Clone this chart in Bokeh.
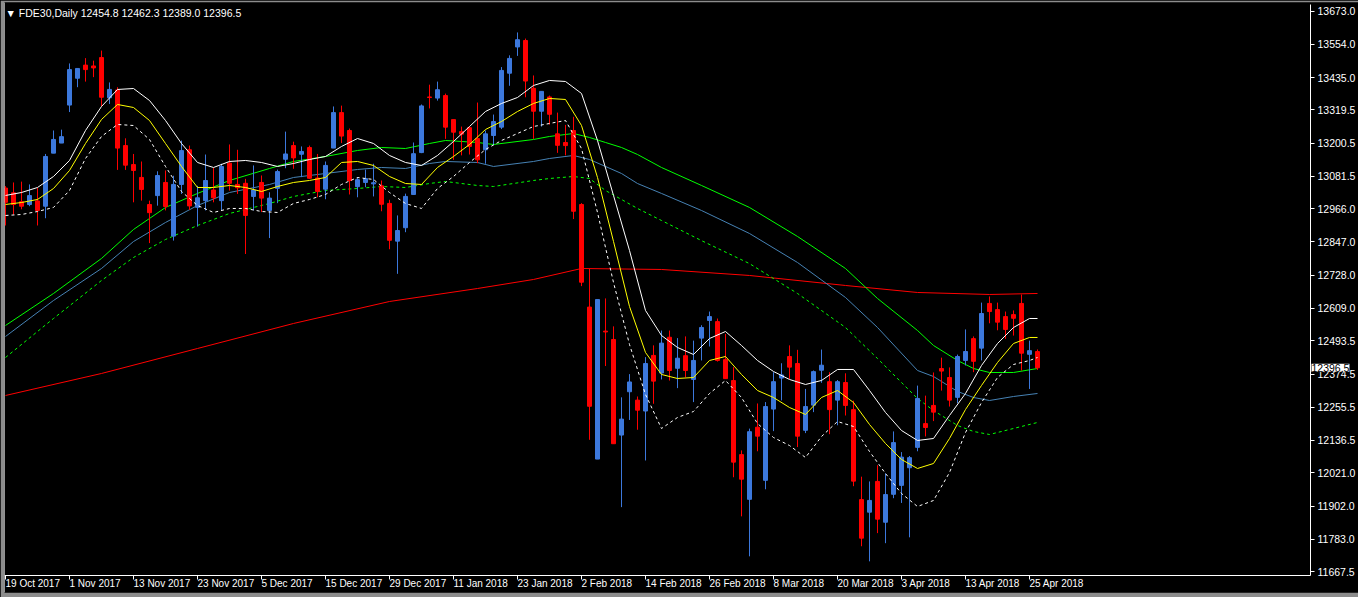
from bokeh.plotting import figure
from bokeh.models import Range1d, FixedTicker, Label, PrintfTickFormatter, LinearAxis, Span
from bokeh.core.properties import value
from bokeh.embed import file_html
from bokeh.resources import INLINE

# ---------------- data ----------------
opens = [13040, 13023, 12991, 12981, 12994, 12975, 13165, 13201, 13337, 13433,
         13480, 13477, 13507, 13363, 13391, 13192, 13124, 13078, 12981, 13013,
         13060, 12868, 13053, 13177, 12971, 12995, 13033, 12995, 13129, 13053,
         13057, 13010, 13060, 12960, 13039, 13143, 13192, 13161, 13185, 13076,
         13036, 13183, 13310, 13246, 13045, 13060, 13055, 13048, 12985, 12850,
         12898, 13017, 13167, 13366, 13362, 13371, 13285, 13242, 13256, 13217,
         13177, 13228, 13258, 13451, 13545, 13568, 13397, 13315, 13366, 13234,
         13203, 13246, 12981, 12614, 12070, 12528, 12498, 12156, 12311, 12281,
         12242, 12441, 12378, 12506, 12395, 12440, 12355, 12503, 12566, 12562,
         12426, 12351, 12086, 11926, 12184, 11994, 12249, 12360, 12437, 12412,
         12173, 12263, 12388, 12347, 12281, 12344, 12247, 11925, 11880, 11990,
         11844, 11944, 11976, 12039, 12112, 12197, 12262, 12394, 12362, 12291,
         12423, 12501, 12467, 12627, 12605, 12580, 12587, 12627, 12445, 12454.8]
highs = [13047, 13060, 13063, 13053, 13040, 13162, 13246, 13249, 13486, 13468,
         13505, 13496, 13532, 13418, 13401, 13218, 13162, 13135, 12995, 13100,
         13103, 13084, 13210, 13192, 13048, 13160, 13112, 13127, 13196, 13177,
         13073, 13121, 13085, 13025, 13106, 13242, 13206, 13189, 13192, 13162,
         13135, 13332, 13335, 13253, 13079, 13106, 13127, 13067, 12998, 12942,
         13020, 13203, 13339, 13410, 13421, 13378, 13285, 13260, 13260, 13346,
         13246, 13303, 13473, 13515, 13597, 13575, 13443, 13386, 13371, 13310,
         13266, 13295, 12986, 12751, 12641, 12645, 12545, 12291, 12374, 12294,
         12435, 12477, 12530, 12530, 12503, 12509, 12494, 12549, 12598, 12573,
         12518, 12399, 12101, 12179, 12269, 12274, 12381, 12413, 12477, 12461,
         12321, 12387, 12462, 12381, 12353, 12377, 12279, 12007, 11990, 12048,
         12019, 12169, 12095, 12081, 12333, 12297, 12380, 12433, 12398, 12444,
         12534, 12509, 12630, 12652, 12630, 12598, 12602, 12659, 12494, 12462.3]
lows = [12906, 12945, 12964, 12975, 12906, 12932, 13165, 13201, 13312, 13401,
        13421, 13437, 13333, 13341, 13105, 13105, 12989, 12995, 12843, 12977,
        12960, 12852, 13019, 12962, 12902, 12960, 12989, 12960, 13031, 13019,
        12804, 12960, 12954, 12861, 12986, 13111, 13109, 13079, 13073, 13007,
        13000, 13183, 13201, 13017, 13007, 13043, 13010, 12957, 12821, 12733,
        12882, 13017, 13165, 13325, 13353, 13216, 13141, 13157, 13160, 13129,
        13127, 13194, 13251, 13406, 13513, 13365, 13216, 13260, 13267, 13166,
        13157, 12929, 12689, 12139, 12070, 12403, 12125, 11898, 12210, 12175,
        12065, 12268, 12355, 12351, 12324, 12363, 12274, 12423, 12473, 12419,
        12358, 12005, 11865, 11722, 12098, 11962, 12170, 12280, 12357, 12113,
        12163, 12238, 12343, 12159, 12191, 12226, 11973, 11758, 11704, 11805,
        11769, 11930, 11913, 11790, 12098, 12151, 12206, 12315, 12258, 12270,
        12405, 12381, 12423, 12556, 12531, 12500, 12512, 12387, 12321, 12389.0]
closes = [12989, 12981, 12975, 13013, 12960, 13153, 13214, 13224, 13464, 13468,
          13464, 13470, 13365, 13393, 13183, 13122, 13103, 13035, 12952, 13085,
          12974, 13053, 13174, 12976, 13005, 13067, 13005, 13117, 13057, 13041,
          12942, 13033, 13004, 13004, 13099, 13162, 13148, 13171, 13075, 13028,
          13121, 13310, 13226, 13067, 13070, 13074, 13059, 12982, 12853, 12888,
          13010, 13163, 13334, 13364, 13392, 13258, 13240, 13233, 13189, 13141,
          13234, 13278, 13461, 13504, 13571, 13423, 13315, 13386, 13304, 13193,
          13192, 12957, 12703, 12259, 12641, 12525, 12125, 12213, 12346, 12245,
          12412, 12349, 12485, 12387, 12431, 12387, 12423, 12541, 12580, 12423,
          12358, 12059, 11998, 12168, 12152, 12258, 12347, 12371, 12399, 12152,
          12258, 12383, 12406, 12247, 12347, 12262, 11991, 11787, 11922, 11855,
          11943, 12129, 12077, 12075, 12287, 12183, 12238, 12385, 12281, 12437,
          12455, 12420, 12591, 12598, 12560, 12534, 12574, 12449, 12458, 12396.5]
bars = list(range(len(opens)))

date_tick_bars = [0, 8, 16, 24, 32, 40, 48, 56, 64, 72, 80, 88, 96, 104, 112, 120, 128]
date_tick_labels = ["19 Oct 2017", "1 Nov 2017", "13 Nov 2017", "23 Nov 2017",
                    "5 Dec 2017", "15 Dec 2017", "29 Dec 2017", "11 Jan 2018",
                    "23 Jan 2018", "2 Feb 2018", "14 Feb 2018", "26 Feb 2018",
                    "8 Mar 2018", "20 Mar 2018", "3 Apr 2018", "13 Apr 2018",
                    "25 Apr 2018"]
price_ticks = [13673.0, 13554.0, 13435.0, 13319.5, 13200.5, 13081.5, 12966.0,
               12847.0, 12728.0, 12609.0, 12493.5, 12374.5, 12255.5, 12136.5,
               12021.0, 11902.0, 11783.0, 11667.5]

band_bars = list(range(0, 129, 2)) + [129]
band_upper = [13013.4, 13024.1, 13042.0, 13081.4, 13138.7, 13246.0, 13331.9, 13392.8, 13396.3, 13353.4,
              13281.8, 13199.5, 13131.5, 13113.6, 13135.1, 13138.7, 13131.5, 13117.2, 13127.9, 13142.2,
              13153.0, 13188.8, 13217.4, 13199.5, 13156.6, 13131.5, 13120.8, 13156.6, 13206.7, 13260.3,
              13314.0, 13342.7, 13364.1, 13407.1, 13425.0, 13421.4, 13378.5, 13210.2, 13013.4, 12816.5,
              12601.8, 12512.3, 12469.4, 12444.3, 12501.6, 12526.6, 12476.6, 12422.9, 12383.5, 12354.9,
              12337.0, 12351.3, 12390.7, 12390.7, 12315.5, 12236.8, 12172.3, 12136.6, 12143.7, 12226.0,
              12304.8, 12405.0, 12483.7, 12541.0, 12573.1, 12573.1]
band_mid = [12981.2, 12988.3, 12999.1, 13038.4, 13102.9, 13199.5, 13285.4, 13339.1, 13328.3, 13281.8,
            13199.5, 13117.2, 13042.0, 13042.0, 13049.2, 13042.0, 13027.7, 13045.6, 13059.9, 13067.1,
            13077.8, 13131.5, 13135.1, 13120.8, 13081.4, 13056.3, 13052.8, 13113.6, 13153.0, 13195.9,
            13249.6, 13278.2, 13314.0, 13342.7, 13360.6, 13357.0, 13263.9, 13077.8, 12848.8, 12616.1,
            12451.5, 12372.8, 12358.4, 12362.0, 12422.9, 12437.2, 12372.8, 12315.5, 12290.4, 12254.6,
            12229.6, 12290.4, 12315.5, 12272.5, 12193.8, 12125.8, 12068.5, 12036.3, 12054.2, 12143.7,
            12247.5, 12333.4, 12415.7, 12483.7, 12505.2, 12505.2]
band_lower = [12941.8, 12945.4, 12956.1, 12970.5, 13031.3, 13145.8, 13224.6, 13267.5, 13263.9, 13213.8,
              13117.2, 13027.7, 12977.6, 12952.6, 12966.9, 12966.9, 12956.1, 12952.6, 12984.8, 12999.1,
              13017.0, 13052.8, 13077.8, 13070.7, 13024.1, 12984.8, 12966.9, 13038.4, 13081.4, 13131.5,
              13178.0, 13210.2, 13235.3, 13260.3, 13271.1, 13281.8, 13181.6, 12952.6, 12702.0, 12480.1,
              12301.2, 12179.5, 12218.9, 12240.3, 12304.8, 12351.3, 12290.4, 12197.3, 12147.2, 12118.6,
              12075.6, 12150.8, 12204.5, 12186.6, 12097.1, 12018.4, 11946.8, 11900.3, 11921.8, 12021.9,
              12165.1, 12272.5, 12362.0, 12408.5, 12422.9, 12433.6]

ma_bars = [0, 6, 12, 16, 20, 24, 28, 33, 36, 40, 44, 47, 50, 53, 55, 59, 61, 66, 68, 71,
           73, 75, 77, 79, 82, 87, 93, 99, 105, 109, 114, 116, 119, 121, 123, 126, 129]
ma_green = [12548.1, 12662.7, 12788.0, 12891.7, 12970.5, 13020.7, 13067.1, 13110.0, 13135.1, 13153.0,
            13174.5, 13185.2, 13181.6, 13199.5, 13210.2, 13203.1, 13195.9, 13213.8, 13224.6, 13235.3,
            13221.0, 13203.1, 13185.2, 13160.1, 13113.6, 13049.2, 12970.5, 12866.7, 12752.1, 12644.8,
            12530.2, 12476.6, 12422.9, 12394.2, 12379.9, 12379.9, 12394.2]
ma_blue = [12508.8, 12637.6, 12752.1, 12848.7, 12916.8, 12977.6, 13024.1, 13052.8, 13077.8, 13092.1,
           13106.5, 13113.6, 13110.0, 13127.9, 13135.1, 13131.5, 13117.2, 13135.1, 13145.8, 13156.6,
           13142.2, 13117.2, 13092.1, 13056.3, 13020.7, 12959.7, 12877.4, 12773.6, 12648.3, 12541.0,
           12387.1, 12365.6, 12312.0, 12290.4, 12279.7, 12294.0, 12304.8]
ma_green_low = [12433.6, 12573.2, 12709.2, 12791.5, 12855.9, 12906.0, 12949.0, 12984.8, 13009.8, 13031.3,
                13038.4, 13045.6, 13042.0, 13056.3, 13063.5, 13049.2, 13045.6, 13067.1, 13074.2, 13081.4,
                13074.2, 13031.3, 12999.1, 12967.0, 12923.9, 12851.9, 12769.6, 12662.7, 12541.0, 12430.0,
                12286.9, 12243.9, 12190.2, 12168.8, 12158.0, 12179.5, 12201.0]

red_bars = [0, 12, 24, 36, 48, 59, 66, 72, 82, 93, 105, 114, 123, 129]
ma_red = [12297.6, 12376.4, 12465.8, 12555.3, 12634.0, 12680.5, 12712.8, 12752.1, 12748.6,
          12727.1, 12691.3, 12666.2, 12659.1, 12662.7]

title_text = "\u25bc FDE30,Daily  12454.8 12462.3 12389.0 12396.5"
last_price = closes[-1]

# ---------------- layout constants (pixels -> data) ----------------
PX_PER_BAR = 8.0
PRICE_PER_PX = 3.579
X0 = -0.125                       # left edge of the chart frame
X_AXIS_AT = X0 + 1306 / PX_PER_BAR  # price scale line
Y_TOP = 13704.1                   # top of drawing area
Y_BOTTOM = Y_TOP - 590 * PRICE_PER_PX
Y_AXIS_LINE = Y_TOP - 573 * PRICE_PER_PX   # time scale line
Y_DATE_TEXT = Y_TOP - 581 * PRICE_PER_PX
Y_CHART_TOP = Y_TOP - 2 * PRICE_PER_PX

FONT = "Liberation Sans"
BULL = "#3c78dc"
BEAR = "#ff0000"

p = figure(width=1358, height=597, output_backend="svg", toolbar_location=None,
           x_range=Range1d(X0, X0 + 1354 / PX_PER_BAR), y_range=Range1d(Y_BOTTOM, Y_TOP),
           x_axis_location=None, y_axis_location=None,
           background_fill_color="black", border_fill_color="#8c8c8c",
           min_border_left=4, min_border_top=2, min_border_right=0, min_border_bottom=5)
p.outline_line_color = None
p.grid.visible = False

yax = LinearAxis(fixed_location=X_AXIS_AT, bounds=(Y_AXIS_LINE, Y_CHART_TOP),
                 ticker=FixedTicker(ticks=price_ticks),
                 formatter=PrintfTickFormatter(format="%.1f"))
xax = LinearAxis(fixed_location=Y_AXIS_LINE, bounds=(X0, X_AXIS_AT),
                 ticker=FixedTicker(ticks=date_tick_bars))
for ax in (xax, yax):
    ax.axis_line_color = "white"
    ax.major_tick_line_color = "white"
    ax.minor_tick_line_color = None
    ax.major_tick_in = 0
    ax.major_tick_out = 4
    ax.major_label_text_color = "white"
    ax.major_label_text_font = FONT
    ax.major_label_text_font_size = "10.5px"
    ax.major_label_standoff = 3
xax.major_label_text_color = None
p.add_layout(yax, "right")
p.add_layout(xax, "below")
p.add_layout(Span(location=X0, dimension="height", line_color="white", line_width=1))

# date labels, left-aligned at their tick
p.text(x=date_tick_bars, y=[Y_DATE_TEXT] * len(date_tick_bars), text=date_tick_labels,
       text_color="white", text_font=value(FONT), text_font_size="10px",
       text_align="left", text_baseline="middle", x_offset=0)

# moving averages
p.line(red_bars, ma_red, line_color="#ff0000", line_width=1)
p.line(ma_bars, ma_green, line_color="#00ff00", line_width=1)
p.line(ma_bars, ma_blue, line_color="#4682b4", line_width=1)
p.line(ma_bars, ma_green_low, line_color="#00ff00", line_width=1, line_dash="3 3")

# candles
up = [i for i in bars if closes[i] >= opens[i]]
dn = [i for i in bars if closes[i] < opens[i]]
p.segment(x0=up, x1=up, y0=[lows[i] for i in up], y1=[highs[i] for i in up],
          line_color=BULL, line_width=1)
p.segment(x0=dn, x1=dn, y0=[lows[i] for i in dn], y1=[highs[i] for i in dn],
          line_color=BEAR, line_width=1)
p.vbar(x=up, width=0.5, top=[closes[i] for i in up], bottom=[opens[i] for i in up],
       fill_color=BULL, line_color=BULL, line_width=1)
p.vbar(x=dn, width=0.5, top=[opens[i] for i in dn], bottom=[closes[i] for i in dn],
       fill_color=BEAR, line_color=BEAR, line_width=1)

# envelope / bands
p.line(band_bars, band_upper, line_color="white", line_width=1)
p.line(band_bars, band_mid, line_color="#ffff00", line_width=1)
p.line(band_bars, band_lower, line_color="white", line_width=1, line_dash="3 3")

p.add_layout(Label(x=1, y=Y_TOP - 10 * PRICE_PER_PX, x_units="screen", y_units="data",
                   text=title_text, text_color="white", text_font=FONT,
                   text_font_size="10.5px", text_baseline="middle"))
p.add_layout(Label(x=X_AXIS_AT, y=last_price, text=f"{last_price:.1f}", text_color="black",
                   text_font=FONT, text_font_size="10.5px", text_baseline="middle",
                   background_fill_color="white", x_offset=1))

html = file_html(p, INLINE)
html = html.replace("<head>", "<head><style>html,body{background:#000000;}</style>", 1)
open("out.html", "w").write(html)
